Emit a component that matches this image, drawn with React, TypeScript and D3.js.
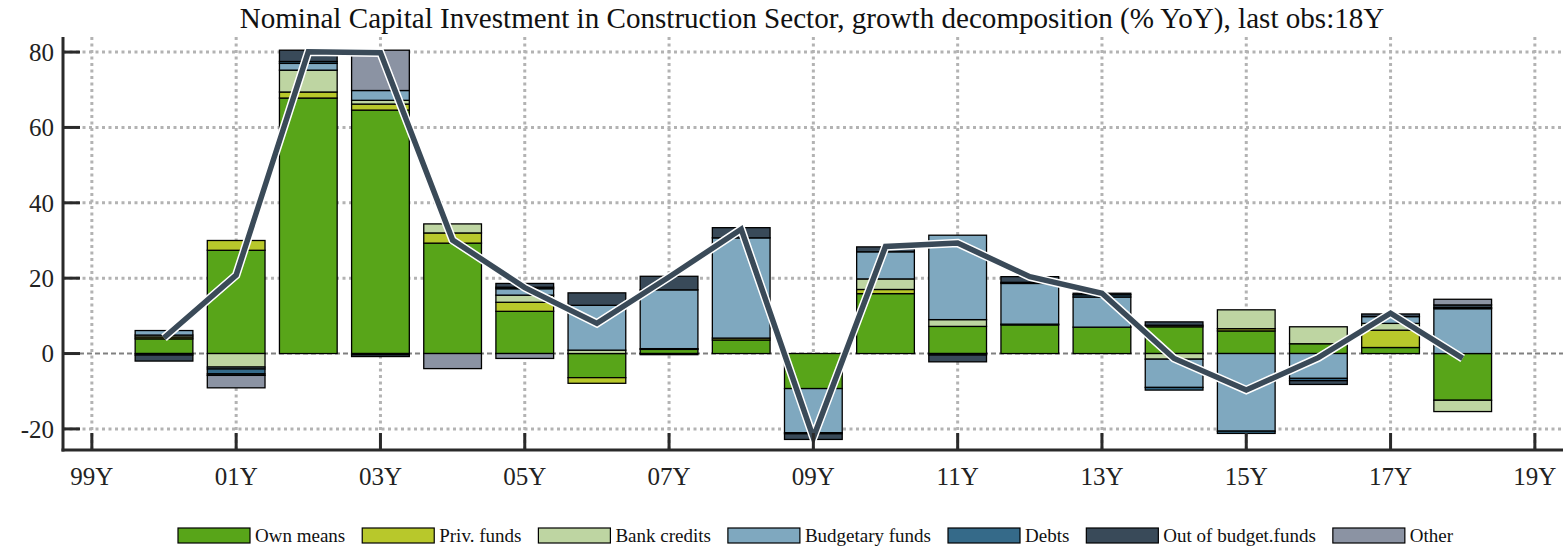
import React from 'react';
import * as d3 from 'd3';

const years = [2000, 2001, 2002, 2003, 2004, 2005, 2006, 2007, 2008, 2009, 2010, 2011, 2012, 2013, 2014, 2015, 2016, 2017, 2018];
const ownMeans = [3.9, 27.4, 67.8, 64.6, 29.3, 11.2, -6.4, 1.1, 3.6, -9.3, 15.9, 7.2, 7.6, 7.0, 7.1, 6.0, 2.6, 1.6, -12.4];
const privFunds = [0.5, 2.6, 1.6, 1.6, 2.7, 2.4, -1.5, 0.2, 0.5, 0, 1.1, 0, 0.2, 0, 0.4, 0.6, 0, 4.6, 0];
const bankCredits = [0.5, -3.6, 5.8, 1.0, 2.4, 1.9, 0.9, 0, 0, 0, 2.8, 1.8, 0, 0, -1.5, 5.0, 4.5, 1.8, -3.0];
const budgetaryFunds = [1.2, -0.5, 1.8, 2.6, 0, 1.7, 11.9, 15.6, 26.6, -11.7, 7.2, 22.4, 10.8, 8.0, -7.5, -20.6, -6.6, 1.8, 11.9];
const debts = [-0.4, -1.3, 0.5, -0.3, 0, 0.4, 0, -0.3, 0, -0.3, 0, -0.4, 0.3, 0.6, -0.7, -0.6, -0.6, 0, 0.3];
const outOfBudget = [-1.6, -0.4, 3.0, -0.5, 0, 1.0, 3.3, 3.6, 2.7, -1.5, 1.3, -1.8, 1.5, 0.4, 0.9, 0, -1.0, 0.7, 0.7];
const other = [0, -3.3, 0, 10.7, -4.0, -1.3, 0, 0, 0, 0, 0, 0, 0, 0, 0, 0, 0, 0, 1.5];
const totalGrowth = [4.2, 20.8, 80.1, 79.8, 30.1, 17.5, 8.0, 20.3, 33.0, -22.3, 28.4, 29.3, 20.4, 16.0, -1.3, -9.7, -1.1, 10.7, -1.3];

const seriesNames = ['Own means', 'Priv. funds', 'Bank credits', 'Budgetary funds', 'Debts', 'Out of budget.funds', 'Other'];
const seriesValues = [ownMeans, privFunds, bankCredits, budgetaryFunds, debts, outOfBudget, other];
const seriesColors = ['#58a519', '#b8c82b', '#bed5a2', '#7fa8bf', '#356a89', '#394a59', '#8b93a3'];

const xTickYears = [1999, 2001, 2003, 2005, 2007, 2009, 2011, 2013, 2015, 2017, 2019];
const xTickLabels = ['99Y', '01Y', '03Y', '05Y', '07Y', '09Y', '11Y', '13Y', '15Y', '17Y', '19Y'];
const yTicks = [-20, 0, 20, 40, 60, 80];

const title = 'Nominal Capital Investment in Construction Sector, growth decomposition (% YoY), last obs:18Y';

const W = 1563;
const H = 547;
const FONT = '"Liberation Serif", "Times New Roman", Times, serif';

function measure(text: string, size: number): number {
  const c = document.createElement('canvas');
  const ctx = c.getContext('2d');
  if (!ctx) return text.length * size * 0.5;
  ctx.font = `${size}px "Liberation Serif"`;
  return ctx.measureText(text).width;
}

export default function App() {
  const left = 63;
  const top = 37;
  const bottom = 450;
  const x = d3.scaleLinear().domain([1998.6, 2019.39]).range([left, W]);
  const y = d3.scaleLinear().domain([-25.6, 84]).range([bottom, top]);
  const barW = 0.8 * (x(1) - x(0));

  const rows = years.map((yr, i) => {
    const r: Record<string, number> = { year: yr };
    seriesNames.forEach((n, k) => (r[n] = seriesValues[k][i]));
    return r;
  });
  const stack = d3.stack<Record<string, number>>().keys(seriesNames).offset(d3.stackOffsetDiverging);
  const stacked = stack(rows);

  const linePath = d3
    .line<number>()
    .x((_, i) => x(years[i]))
    .y((d) => y(d))(totalGrowth) || '';

  // legend layout
  const legFont = 19;
  const boxW = 72;
  const boxH = 15;
  let lx = 178;
  const legendItems = seriesNames.map((n, k) => {
    const item = { name: n, color: seriesColors[k], x: lx };
    lx += boxW + 5 + measure(n, legFont) + 17;
    return item;
  });

  return (
    <svg width={W} height={H} style={{ position: 'absolute', left: 0, top: 0, background: '#fff' }} fontFamily={FONT}>
      <rect x={0} y={0} width={W} height={H} fill="#fff" />
      <text x={812} y={28} textAnchor="middle" fontSize={29.1} fill="#111">
        {title}
      </text>
      {/* grid */}
      <g stroke="#b3b3b3" strokeWidth={3} strokeDasharray="3,3.5">
        {xTickYears.map((t) => (
          <line key={'gx' + t} x1={x(t)} x2={x(t)} y1={top} y2={bottom} />
        ))}
        {yTicks.filter((t) => t !== 0).map((t) => (
          <line key={'gy' + t} x1={left} x2={W} y1={y(t)} y2={y(t)} />
        ))}
      </g>
      <line x1={left} x2={W} y1={y(0)} y2={y(0)} stroke="#808080" strokeWidth={2} strokeDasharray="5,3" />
      {/* bars */}
      <g stroke="#000" strokeWidth={1.3}>
        {stacked.map((s, k) => (
          <g key={s.key} fill={seriesColors[k]}>
            {s.map((d, i) => {
              const y0 = y(d[0]);
              const y1 = y(d[1]);
              const h = Math.abs(y0 - y1);
              if (h < 0.01) return null;
              return <rect key={i} x={x(years[i]) - barW / 2} y={Math.min(y0, y1)} width={barW} height={h} />;
            })}
          </g>
        ))}
      </g>
      {/* total line */}
      <path d={linePath} fill="none" stroke="#fff" strokeWidth={8.5} strokeLinejoin="miter" />
      <path d={linePath} fill="none" stroke="#3a4a58" strokeWidth={5.5} strokeLinejoin="miter" />
      {/* axes */}
      <g stroke="#2a2a2a" strokeWidth={3}>
        <line x1={left} x2={left} y1={top} y2={bottom + 1.5} />
        <line x1={left - 1.5} x2={W} y1={bottom} y2={bottom} />
        {yTicks.map((t) => (
          <line key={'ty' + t} x1={left} x2={left + 17} y1={y(t)} y2={y(t)} />
        ))}
        {xTickYears.map((t) => (
          <line key={'tx' + t} x1={x(t)} x2={x(t)} y1={bottom} y2={bottom - 17} />
        ))}
      </g>
      <g fontSize={25} fill="#222">
        {yTicks.map((t) => (
          <text key={'ly' + t} x={54} y={y(t)} dy="0.35em" textAnchor="end">
            {t}
          </text>
        ))}
        {xTickYears.map((t, i) => (
          <text key={'lx' + t} x={x(t)} y={485} textAnchor="middle">
            {xTickLabels[i]}
          </text>
        ))}
      </g>
      {/* legend */}
      <g fontSize={legFont} fill="#111">
        {legendItems.map((it) => (
          <g key={it.name}>
            <rect x={it.x} y={528} width={boxW} height={boxH} fill={it.color} stroke="#000" strokeWidth={1.2} />
            <text x={it.x + boxW + 5} y={542}>
              {it.name}
            </text>
          </g>
        ))}
      </g>
    </svg>
  );
}
